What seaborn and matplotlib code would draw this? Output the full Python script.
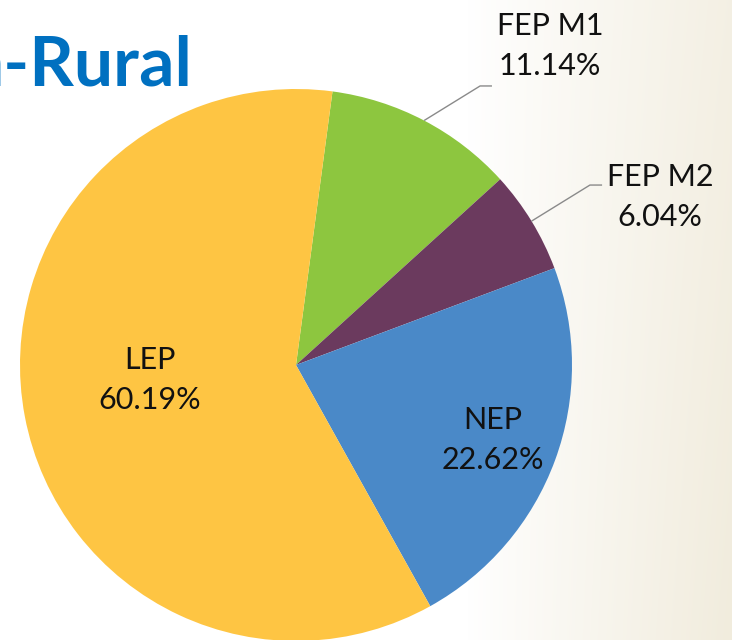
import numpy as np
import matplotlib
matplotlib.use("Agg")
import matplotlib.pyplot as plt
import seaborn as sns

# ---- data ----
categories = ["FEP M1", "FEP M2", "NEP", "LEP"]
shares = [11.14, 6.04, 22.62, 60.19]
pct_labels = ["11.14%", "6.04%", "22.62%", "60.19%"]
colors = ["#8DC63F", "#6B3A5E", "#4A89C8", "#FEC543"]
title_text = "n-Rural"

# ---- layout (data coords of the pie, radius = 1) ----
label_xy = {"FEP M1": (0.920, 1.156), "FEP M2": (1.319, 0.609),
            "NEP": (0.714, -0.272), "LEP": (-0.529, -0.054)}
leader = {"FEP M1": [(0.667, 1.011), (0.710, 1.011)],
          "FEP M2": [(1.065, 0.652), (1.109, 0.652)]}

sns.set_theme(style="white")
plt.rcParams['font.family'] = ['Lato', 'DejaVu Sans']

W, H = 732, 640
fig = plt.figure(figsize=(W / 100, H / 100), dpi=100)
fig.patch.set_facecolor("white")

# background gradient (white -> cream on the right)
bg = fig.add_axes([0, 0, 1, 1], zorder=0)
bg.axis("off")
xs = np.linspace(0, 1, W)
ys = np.linspace(0, 1, H)
t = np.clip((xs - 0.64) / 0.36, 0, 1) ** 0.9
tv = 0.8 + 0.2 * ys[:, None]  # slightly darker toward bottom
white = np.array([1.0, 1.0, 1.0])
cream = np.array([241, 236, 221]) / 255.0
mix = (t[None, :] * tv)[..., None]
img = white * (1 - mix) + cream * mix
bg.imshow(img, aspect="auto", extent=[0, 1, 0, 1], origin="upper")

# pie axes
cx, cy, r = 296, 365, 276
ax = fig.add_axes([(cx - r) / W, (H - cy - r) / H, 2 * r / W, 2 * r / H], zorder=1)
wedges, _ = ax.pie(shares, colors=colors, startangle=82.4, counterclock=False,
                   radius=1, wedgeprops=dict(linewidth=0))
ax.set_xlim(-1, 1)
ax.set_ylim(-1, 1)
ax.axis("off")

for w, cat, pct in zip(wedges, categories, pct_labels):
    lx, ly = label_xy[cat]
    ax.text(lx, ly, f"{cat}\n{pct}", ha="center", va="center", fontsize=22,
            color="#111111", linespacing=1.5, clip_on=False)
    if cat in leader:
        mid = np.deg2rad((w.theta1 + w.theta2) / 2)
        pts = [(np.cos(mid), np.sin(mid))] + leader[cat]
        ax.plot([p[0] for p in pts], [p[1] for p in pts], color="#8a8a8a",
                lw=1.0, clip_on=False, solid_capstyle="butt")

fig.text(193 / W, 1 - 85 / H, title_text, ha="right", va="baseline",
         fontsize=50, fontweight="bold", color="#0070C0")

fig.savefig("out.png", dpi=100)
